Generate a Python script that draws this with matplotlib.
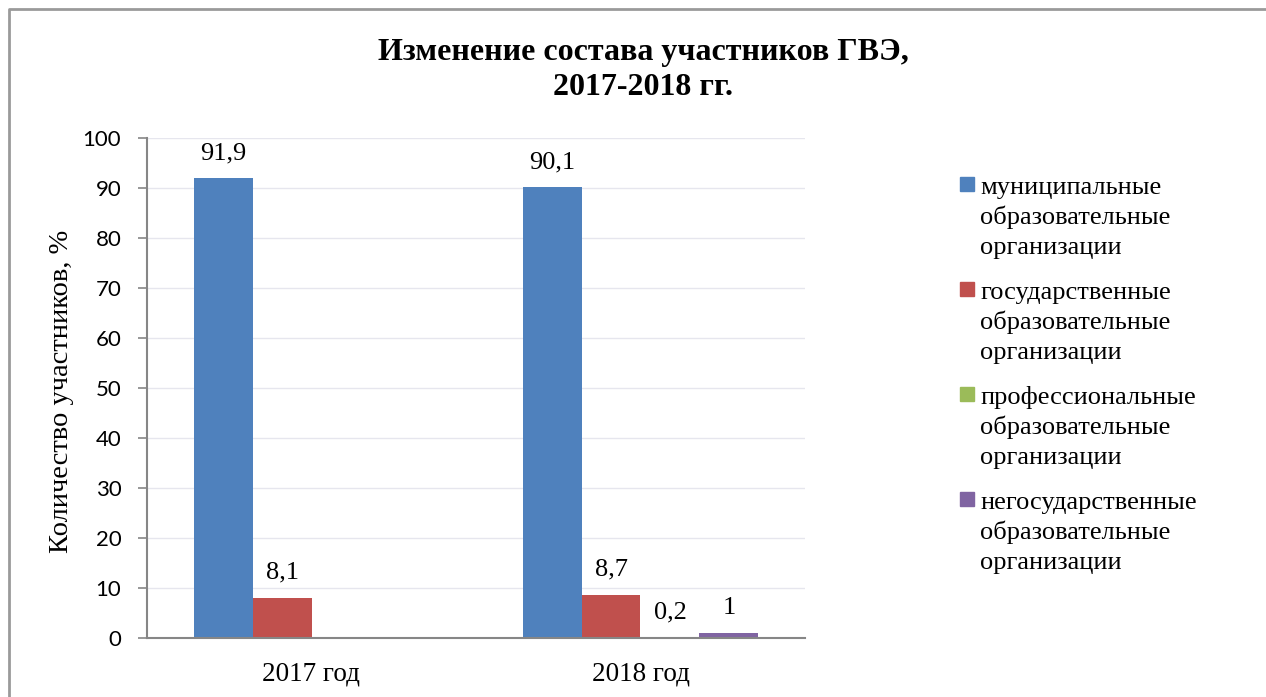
import numpy as np
import matplotlib
matplotlib.use("Agg")
import matplotlib.pyplot as plt
from matplotlib.patches import Rectangle
from matplotlib.lines import Line2D

# данные
years = ["2017 год", "2018 год"]
series_names = [
    "муниципальные\nобразовательные\nорганизации",
    "государственные\nобразовательные\nорганизации",
    "профессиональные\nобразовательные\nорганизации",
    "негосударственные\nобразовательные\nорганизации",
]
municipal = [91.9, 90.1]
state = [8.1, 8.7]
professional = [np.nan, 0.2]
private = [np.nan, 1.0]
colors = ["#4F81BD", "#C0504D", "#9BBB59", "#8064A2"]

serif = "Liberation Serif"
W, H = 1266, 697

fig = plt.figure(figsize=(W / 100, H / 100), dpi=100)
ax = fig.add_axes([147 / W, 1 - 638 / H, (805 - 147) / W, 500 / H])

x = np.arange(len(years))
w = 0.179
all_series = [municipal, state, professional, private]
for i, (vals, c) in enumerate(zip(all_series, colors)):
    bars = ax.bar(x + (i - 1.5) * w, vals, w, color=c, zorder=2)
    ax.bar_label(bars, fmt=lambda v: f"{v:g}".replace(".", ","), padding=10,
                 fontsize=19, family=serif)

ax.set_xlim(-0.5, 1.5)
ax.set_ylim(0, 100)
ax.set_yticks(range(0, 101, 10))
ax.set_xticks(x)
ax.set_xticklabels(years, fontsize=19.5, family=serif)
for lbl in ax.get_yticklabels():
    lbl.set_family("Lato")
    lbl.set_fontsize(16)
ax.tick_params(axis="x", length=0, pad=17)
ax.tick_params(axis="y", length=6.5, width=1.2, color="#868686", pad=12)
ax.grid(axis="y", color="#e6e6ee", lw=1, zorder=0)
for s in ["top", "right"]:
    ax.spines[s].set_visible(False)
for s in ["left", "bottom"]:
    ax.spines[s].set_color("#868686")
    ax.spines[s].set_linewidth(1.5)
    ax.spines[s].set_zorder(3)

fig.text(62 / W, 1 - 391 / H, "Количество участников, %", rotation=90,
         ha="center", va="center", fontsize=20.5, family=serif)

fig.text(643 / W, 1 - 70 / H, "Изменение состава участников ГВЭ,\n2017-2018 гг.",
         ha="center", va="center", fontsize=23, weight="bold", family=serif,
         linespacing=1.3)

# легенда
for i, (name, c) in enumerate(zip(series_names, colors)):
    base = 194 + i * 105
    fig.patches.append(Rectangle((960 / W, 1 - (base - 3) / H), 14 / W, 14 / H,
                                 transform=fig.transFigure, color=c))
    for j, line in enumerate(name.split("\n")):
        fig.text(980 / W, 1 - (base + j * 30) / H, line, ha="left",
                 va="baseline", fontsize=19, family=serif)

# рамка
fig.add_artist(Line2D([9 / W, 9 / W, 1], [0, 1 - 9 / H, 1 - 9 / H],
                      transform=fig.transFigure, color="#9a9a9a", lw=2))

fig.savefig("out.png", dpi=100)
